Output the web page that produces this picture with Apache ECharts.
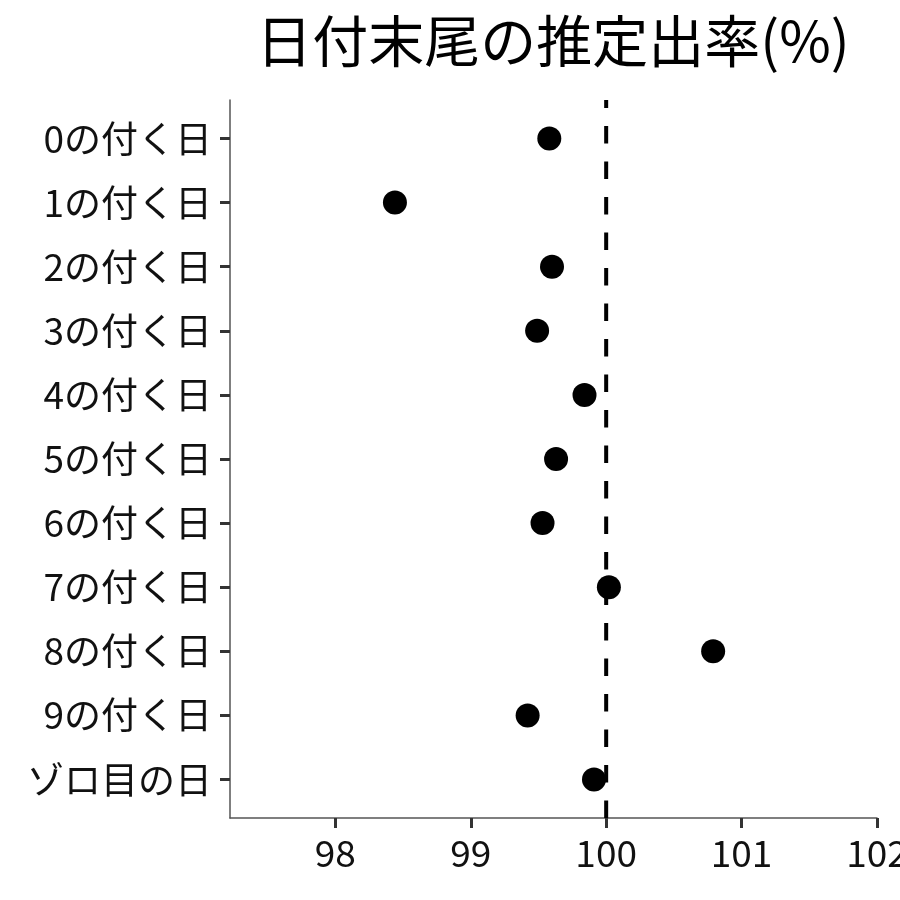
<!DOCTYPE html>
<html>
<head>
<meta charset="utf-8">
<script src="https://cdn.jsdelivr.net/npm/echarts@6/dist/echarts.min.js"></script>
<style>html,body{margin:0;padding:0;background:#fff}#c{width:900px;height:900px}</style>
</head>
<body>
<div id="c"></div>
<script>
const titleText = '日付末尾の推定出率(%)';
const categories = ['0の付く日','1の付く日','2の付く日','3の付く日','4の付く日','5の付く日','6の付く日','7の付く日','8の付く日','9の付く日','ゾロ目の日'];
const rates = [99.58, 98.44, 99.60, 99.49, 99.84, 99.63, 99.53, 100.02, 100.79, 99.42, 99.91];
const xTicks = [98, 99, 100, 101, 102];
const refValue = 100;

const FONT = '"Noto Sans CJK JP", "Noto Sans", sans-serif';
const chart = echarts.init(document.getElementById('c'), null, {renderer: 'canvas'});
const yIdx = categories.map((_, i) => i);

chart.setOption({
  backgroundColor: '#ffffff',
  animation: false,
  title: {
    text: titleText,
    left: 548,
    top: 8,
    textAlign: 'center',
    textStyle: {fontFamily: FONT, fontSize: 56, fontWeight: 'normal', color: '#000'}
  },
  grid: {left: 230, right: 23, top: 100, bottom: 82, containLabel: false, outerBoundsMode: 'none'},
  xAxis: {
    type: 'value',
    min: 97.222,
    max: 102,
    splitLine: {show: false},
    axisLine: {show: true, onZero: false, lineStyle: {color: '#555', width: 1.5}},
    axisTick: {show: true, length: 10, customValues: xTicks, lineStyle: {color: '#333', width: 3}},
    axisLabel: {show: true, customValues: xTicks, margin: 16, fontFamily: FONT, fontSize: 37, color: '#111', hideOverlap: false},
  },
  yAxis: {
    type: 'value',
    inverse: true,
    min: -0.6,
    max: 10.6,
    splitLine: {show: false},
    axisLine: {show: true, onZero: false, lineStyle: {color: '#555', width: 1.5}},
    axisTick: {show: true, length: 10, customValues: yIdx, lineStyle: {color: '#333', width: 3}},
    axisLabel: {show: true, customValues: yIdx, margin: 18, fontFamily: FONT, fontSize: 37, color: '#111',
      formatter: v => categories[Math.round(v)] || ''}
  },
  series: [
    {
      type: 'scatter',
      symbol: 'circle',
      symbolSize: 24,
      itemStyle: {color: '#000', opacity: 1},
      data: rates.map((r, i) => [r, i]),
      z: 2
    },
    {
      type: 'line',
      data: [[refValue, 10.6], [refValue, -0.6]],
      symbol: 'none',
      lineStyle: {color: '#000', width: 4, type: [17.5, 18]},
      z: 3,
      silent: true
    }
  ]
});
</script>
</body>
</html>
